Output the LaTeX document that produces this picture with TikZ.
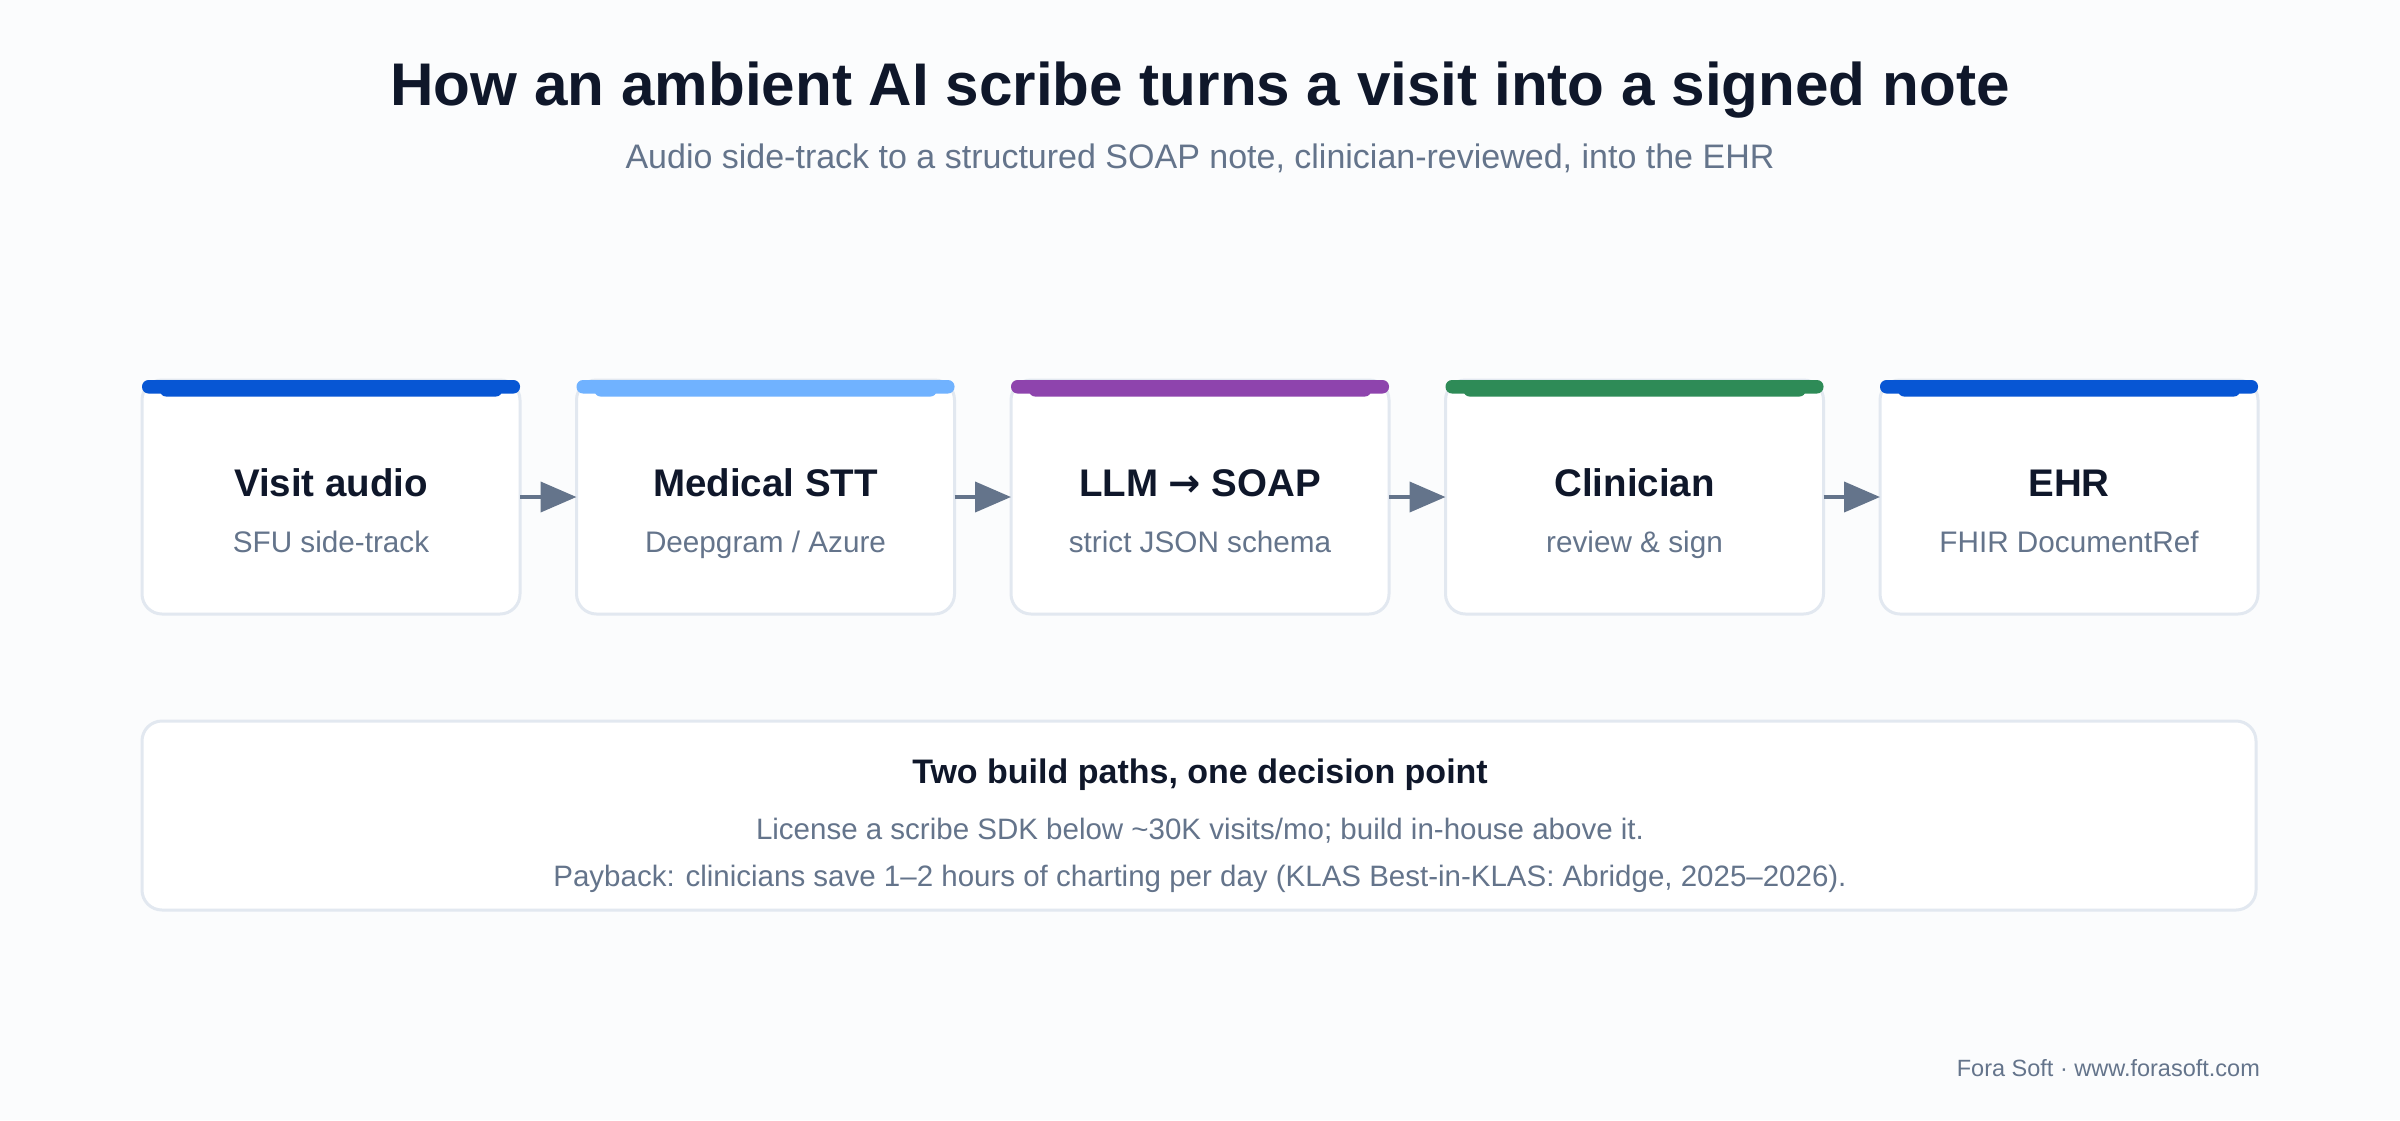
\documentclass[tikz,border=0pt]{standalone}
\usepackage{fontspec}
\setmainfont{Liberation Sans}
\newfontfamily\symfont{DejaVu Sans}
\usetikzlibrary{arrows.meta}
\definecolor{cBg}{HTML}{FBFCFD}
\definecolor{cTitle}{HTML}{0F172A}
\definecolor{cMuted}{HTML}{64748B}
\definecolor{cBorder}{HTML}{E2E8F0}
\definecolor{cBlue}{HTML}{0756D4}
\definecolor{cLight}{HTML}{70B2FF}
\definecolor{cPurple}{HTML}{8E44AD}
\definecolor{cGreen}{HTML}{2E8B57}
\definecolor{cArrow}{HTML}{64748B}
\tikzset{
  stagebox/.style={draw=cBorder, line width=3pt, fill=white, rounded corners=20pt,
    minimum width=378pt, minimum height=234pt, inner sep=0pt, outer sep=0pt},
  stagetitle/.style={font=\fontsize{38.5}{44}\selectfont\bfseries, text=cTitle, inner sep=0pt},
  stagesub/.style={font=\fontsize{29.7}{34}\selectfont, text=cMuted, inner sep=0pt},
  flowarrow/.style={draw=cArrow, line width=4pt, -{Triangle[length=36pt,width=30pt]}},
  maintitle/.style={font=\fontsize{60.2}{70}\selectfont\bfseries, text=cTitle, inner sep=0pt},
  subtitle/.style={font=\fontsize{34}{40}\selectfont, text=cMuted, inner sep=0pt},
  decbox/.style={draw=cBorder, line width=3pt, fill=white, rounded corners=20pt,
    minimum width=2114pt, minimum height=189pt, inner sep=0pt, outer sep=0pt},
  dechead/.style={font=\fontsize{34}{38}\selectfont\bfseries, text=cTitle, inner sep=0pt},
  decline/.style={font=\fontsize{29.5}{30}\selectfont, text=cMuted, inner sep=0pt},
  footer/.style={font=\fontsize{23.5}{26}\selectfont, text=cMuted, inner sep=0pt},
}
\newcommand\stagecard[5]{%
  \node[stagebox, anchor=north west] (#1) at (#2,380) {};
  \fill[#3, rounded corners=6pt] (#2+18,384) rectangle (#2+360,396.5);
  \fill[#3, rounded corners=6.5pt] (#2,380) rectangle (#2+378,393.5);
  \node[stagetitle, anchor=base] (#1t) at (#2+189,496) {#4};
  \node[stagesub, anchor=base] (#1s) at (#2+189,552) {#5};
}
\begin{document}
\begin{tikzpicture}[x=1pt,y=-1pt]
\fill[cBg] (0,0) rectangle (2400,1120);
\useasboundingbox (0,0) rectangle (2400,1120);

\node[maintitle, anchor=base] (title) at (1200,105) {How an ambient AI scribe turns a visit into a signed note};
\node[subtitle, anchor=base] (sub) at (1200,168) {Audio side-track to a structured SOAP note, clinician-reviewed, into the EHR};

\stagecard{s1}{142}{cBlue}{Visit audio}{SFU side-track}
\stagecard{s2}{576.5}{cLight}{Medical STT}{Deepgram / Azure}
\stagecard{s3}{1011}{cPurple}{LLM {\symfont\bfseries →} SOAP}{strict JSON schema}
\stagecard{s4}{1445.5}{cGreen}{Clinician}{review \& sign}
\stagecard{s5}{1880}{cBlue}{EHR}{FHIR DocumentRef}

\draw[flowarrow] (s1.east) -- (s2.west);
\draw[flowarrow] (s2.east) -- (s3.west);
\draw[flowarrow] (s3.east) -- (s4.west);
\draw[flowarrow] (s4.east) -- (s5.west);

\node[decbox, anchor=north west] (dec) at (142,721) {};
\node[dechead, anchor=base] (dech) at (1200,783) {Two build paths, one decision point};
\node[decline, anchor=base] (decl1) at (1200,839) {License a scribe SDK below \textasciitilde30K visits/mo; build in-house above it.};
\node[decline, anchor=base] (decl2) at (1200,886) {Payback: clinicians save 1–2 hours of charting per day (KLAS Best-in-KLAS: Abridge, 2025–2026).};

\node[footer, anchor=base east] (foot) at (2260,1076) {Fora Soft · www.forasoft.com};
\end{tikzpicture}
\end{document}
